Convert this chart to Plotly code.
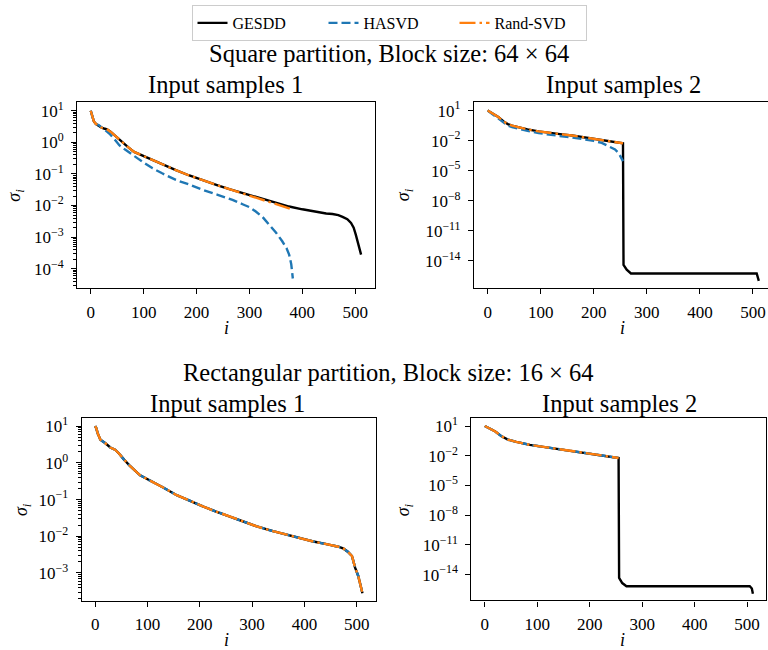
import plotly.graph_objects as go

# ---------------- data ----------------
SERIES = ["GESDD", "HASVD", "Rand-SVD"]
COLORS = {"GESDD": "#000000", "HASVD": "#1f77b4", "Rand-SVD": "#ff7f0e"}
DASHES = {"GESDD": "solid", "HASVD": "9px,4px", "Rand-SVD": "16px,4px,2.5px,4px"}

# Square partition, input samples 1
sq1_gesdd_i = [0, 3, 6, 10, 15, 20, 25, 31, 38, 45, 52, 60, 70, 82, 95, 107, 123, 140, 161, 185,
               217, 240, 262, 290, 318, 345, 375, 400, 426, 445, 457, 468, 476, 485, 492, 497,
               501, 506, 511]
sq1_gesdd_s = [10.0, 7.08, 4.57, 3.80, 3.31, 2.95, 2.75, 2.57, 2.14, 1.66, 1.32, 1.04, 0.72, 0.50,
               0.40, 0.32, 0.257, 0.19, 0.132, 0.091, 0.0575, 0.0437, 0.0331, 0.024, 0.017,
               0.0126, 0.0093, 0.0076, 0.0063, 0.0056, 0.0054, 0.0050, 0.0044, 0.0037, 0.0028,
               0.0020, 0.0012, 0.00063, 0.00028]
sq1_hasvd_i = [0, 3, 6, 10, 15, 19, 25, 35, 45, 54, 65, 76, 90, 105, 117, 135, 161, 185, 211, 240,
               268, 287, 300, 312, 325, 337, 350, 362, 370, 375, 379, 382]
sq1_hasvd_s = [10.0, 7.08, 4.57, 3.80, 3.55, 3.16, 2.63, 1.91, 1.26, 0.81, 0.59, 0.45, 0.30, 0.204,
               0.151, 0.105, 0.0646, 0.0468, 0.0316, 0.0219, 0.0151, 0.011, 0.0089, 0.0065,
               0.0043, 0.0025, 0.0014, 0.00074, 0.00045, 0.00028, 0.00014, 0.000049]
sq1_rand_i = [0, 3, 6, 10, 15, 20, 25, 31, 38, 45, 52, 60, 70, 82, 95, 107, 123, 140, 161, 185,
              217, 240, 262, 290, 318, 345, 365, 382]
sq1_rand_s = [10.0, 7.08, 4.57, 3.80, 3.31, 2.95, 2.75, 2.57, 2.14, 1.66, 1.32, 1.04, 0.72, 0.50,
              0.40, 0.32, 0.257, 0.19, 0.132, 0.091, 0.0575, 0.0437, 0.0331, 0.024, 0.0165,
              0.0118, 0.0093, 0.0074]

# Square partition, input samples 2
sq2_gesdd_i = [0, 5, 10, 20, 30, 38, 46, 60, 75, 96, 120, 140, 159, 180, 209, 230, 250, 255,
               256, 262, 270, 507, 511]
sq2_gesdd_s = [10.0, 7.08, 5.0, 2.24, 0.81, 0.45, 0.31, 0.19, 0.132, 0.083, 0.054, 0.042, 0.032,
               0.022, 0.0126, 0.0089, 0.0059, 0.0054, 4.0e-15, 1.3e-15, 5.5e-16, 5.5e-16, 1.0e-16]
sq2_hasvd_i = [0, 5, 10, 20, 30, 38, 46, 60, 75, 96, 120, 140, 159, 180, 200, 215, 222, 232, 240,
               247, 251, 255]
sq2_hasvd_s = [10.0, 6.3, 4.0, 1.58, 0.56, 0.32, 0.22, 0.135, 0.093, 0.056, 0.035, 0.027, 0.021,
               0.0148, 0.0093, 0.006, 0.004, 0.0022, 0.0013, 0.00056, 0.00025, 0.000089]
sq2_rand_i = [0, 5, 10, 20, 30, 38, 46, 60, 75, 96, 120, 140, 159, 180, 209, 230, 250, 255]
sq2_rand_s = [10.0, 7.08, 5.0, 2.24, 0.81, 0.45, 0.31, 0.19, 0.132, 0.083, 0.054, 0.042, 0.032,
              0.022, 0.0126, 0.0089, 0.0059, 0.0054]

# Rectangular partition, input samples 1 (all three methods coincide)
re1_i = [0, 2, 5, 10, 19, 29, 38, 46, 54, 67, 86, 111, 130, 156, 180, 207, 230, 258, 285, 309,
         340, 366, 392, 417, 440, 455, 465, 475, 483, 491, 497, 503, 507, 511]
re1_s = [10.0, 8.9, 6.3, 4.27, 3.47, 2.63, 2.29, 1.78, 1.29, 0.81, 0.457, 0.302, 0.214, 0.132,
         0.0933, 0.0646, 0.0479, 0.0347, 0.0251, 0.0186, 0.0138, 0.011, 0.0089, 0.0072, 0.0062,
         0.0056, 0.0052, 0.0046, 0.0038, 0.0029, 0.0014, 0.00083, 0.0005, 0.00028]

# Rectangular partition, input samples 2
re2_gesdd_i = [0, 10, 20, 32, 44, 60, 86, 118, 150, 180, 207, 230, 252, 255, 256, 262, 270, 505,
               509, 511]
re2_gesdd_s = [10.0, 5.6, 2.8, 0.91, 0.43, 0.25, 0.126, 0.071, 0.040, 0.0234, 0.0132, 0.0089,
               0.0063, 0.006, 4.7e-15, 1.4e-15, 6.8e-16, 6.8e-16, 4.0e-16, 1.2e-16]
re2_low_i = [0, 10, 20, 32, 44, 60, 86, 118, 150, 180, 207, 230, 252, 255]
re2_low_s = [10.0, 5.6, 2.8, 0.91, 0.43, 0.25, 0.126, 0.071, 0.040, 0.0234, 0.0132, 0.0089,
             0.0063, 0.006]

SUPTITLES = ["Square partition, Block size: 64 × 64", "Rectangular partition, Block size: 16 × 64"]
SUBTITLES = ["Input samples 1", "Input samples 2"]
X_TICKS = [0, 100, 200, 300, 400, 500]
Y_TICK_EXP_A1 = [1, 0, -1, -2, -3, -4]
Y_TICK_EXP_A2 = [1, 0, -1, -2, -3]
Y_TICK_EXP_B = [1, -2, -5, -8, -11, -14]

# ---------------- layout geometry (pixels) ----------------
W, H = 768, 650
FONT = "Liberation Serif"

panels = [
    dict(box=(77.2, 374.6, 98.0, 285.5), xr=[-25.55, 536.55], yr=[-4.62, 1.27],
         exps=Y_TICK_EXP_A1, minor=(-5, 1), mirror=True),
    dict(box=(474.1, 768.0, 98.0, 285.5), xr=[-25.6, 528.3], yr=[-16.74, 1.83],
         exps=Y_TICK_EXP_B, minor=None, mirror=False),
    dict(box=(81.8, 375.8, 416.7, 600.5), xr=[-25.55, 536.55], yr=[-3.76, 1.21],
         exps=Y_TICK_EXP_A2, minor=(-4, 1), mirror=True),
    dict(box=(471.4, 766.3, 416.7, 600.0), xr=[-25.55, 536.55], yr=[-16.6, 1.76],
         exps=Y_TICK_EXP_B, minor=None, mirror=True),
]

panel_data = [
    [(sq1_gesdd_i, sq1_gesdd_s), (sq1_hasvd_i, sq1_hasvd_s), (sq1_rand_i, sq1_rand_s)],
    [(sq2_gesdd_i, sq2_gesdd_s), (sq2_hasvd_i, sq2_hasvd_s), (sq2_rand_i, sq2_rand_s)],
    [(re1_i, re1_s), (re1_i, re1_s), (re1_i, re1_s)],
    [(re2_gesdd_i, re2_gesdd_s), (re2_low_i, re2_low_s), (re2_low_i, re2_low_s)],
]


def sup_label(e):
    return "10<sup>" + str(e).replace("-", "−") + "</sup>"


fig = go.Figure()
layout = {}
extra = 5
for k, (p, data) in enumerate(zip(panels, panel_data)):
    n = "" if k == 0 else str(k + 1)
    x0, x1, yt, yb = p["box"]
    for name, (xi, ys) in zip(SERIES, data):
        fig.add_trace(go.Scatter(
            x=xi, y=ys, mode="lines", name=name,
            line=dict(color=COLORS[name], width=2.4, dash=DASHES[name]),
            xaxis="x" + n, yaxis="y" + n, showlegend=(k == 0)))
    layout["xaxis" + n] = dict(
        domain=[x0 / W, x1 / W], range=p["xr"], anchor="y" + n,
        tickvals=X_TICKS, ticks="outside", ticklen=5, tickwidth=1.2, tickcolor="black",
        showline=True, linecolor="black", linewidth=1.3, mirror=True,
        showgrid=False, zeroline=False, ticklabelstandoff=3,
        tickfont=dict(family=FONT, size=17, color="black"))
    tv = [10.0 ** e for e in p["exps"]]
    tt = [sup_label(e) for e in p["exps"]]
    tlen, standoff = 5, 4
    if p["minor"]:
        # minor log ticks (2..9 x 10^k) carried on the main axis with blank labels
        lo, hi = p["minor"]
        mv = [m * 10.0 ** e for e in range(lo, hi + 1) for m in range(2, 10)]
        tv = tv + mv
        tt = tt + [""] * len(mv)
        tlen, standoff = 3, 6
    layout["yaxis" + n] = dict(
        domain=[1 - yb / H, 1 - yt / H], type="log", range=p["yr"], anchor="x" + n,
        tickmode="array", tickvals=tv, ticktext=tt,
        ticks="outside", ticklen=tlen, tickwidth=1.2, tickcolor="black",
        showline=True, linecolor="black", linewidth=1.3, mirror=p["mirror"],
        showgrid=False, zeroline=False, ticklabelstandoff=standoff,
        tickfont=dict(family=FONT, size=17, color="black"))
    if p["minor"]:
        # overlay axis re-drawing the longer major ticks
        ov = "y" + str(extra)
        layout["yaxis" + str(extra)] = dict(
            overlaying="y" + n, anchor="x" + n, side="left", type="log", range=p["yr"],
            tickmode="array", tickvals=[10.0 ** e for e in p["exps"]], showticklabels=False,
            ticks="outside", ticklen=5, tickwidth=1.2, tickcolor="black", showline=False,
            showgrid=False, zeroline=False)
        fig.add_trace(go.Scatter(x=[None], y=[None], mode="lines", xaxis="x" + n, yaxis=ov,
                                 showlegend=False, hoverinfo="skip"))
        extra += 1

annos = []


def text(x, y, s, size, angle=0):
    annos.append(dict(x=x / W, y=1 - y / H, xref="paper", yref="paper", text=s,
                      showarrow=False, xanchor="center", yanchor="middle", textangle=angle,
                      font=dict(family=FONT, size=size, color="black")))


TS = 24.5
text(388.7, 49, SUPTITLES[0], TS)
text(388.2, 370, SUPTITLES[1], TS)
text(225.9, 80, SUBTITLES[0], TS)
text(623.0, 80, SUBTITLES[1], TS)
text(227.5, 401.7, SUBTITLES[0], TS)
text(619.0, 401.7, SUBTITLES[1], TS)
sig = "<i>σ</i><sub><i>i</i></sub>"
text(15.5, 191.7, sig, 18, -90)
text(404.0, 191.7, sig, 18, -90)
text(22.5, 508.5, sig, 18, -90)
text(404.7, 508.5, sig, 18, -90)
text(226.0, 326, "<i>i</i>", 18)
text(622.0, 326, "<i>i</i>", 18)
text(226.7, 640, "<i>i</i>", 18)
text(622.3, 640, "<i>i</i>", 18)

fig.update_layout(
    width=W, height=H, margin=dict(l=0, r=0, t=0, b=0, pad=0),
    paper_bgcolor="white", plot_bgcolor="white",
    font=dict(family=FONT, size=16, color="black"),
    legend=dict(orientation="h", x=389 / W, xanchor="center", y=1.0, yanchor="top",
                bordercolor="#cccccc", borderwidth=1, bgcolor="white",
                font=dict(family=FONT, size=16, color="black"), itemwidth=30,
                entrywidth=86, tracegroupgap=0),
    annotations=annos,
    **layout)

fig.write_html("out.html")
